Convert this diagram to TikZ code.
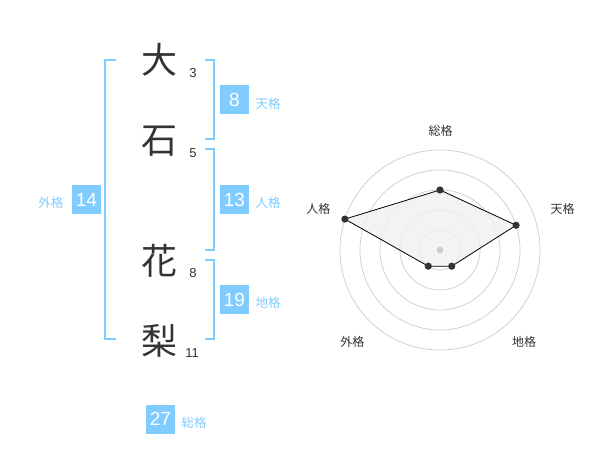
\documentclass[tikz,border=0pt]{standalone}
\usepackage{fontspec}
\setmainfont{Liberation Sans}
\newfontfamily\jpfont{Noto Sans CJK JP}
\definecolor{skyb}{RGB}{128,204,255}
\definecolor{ink}{RGB}{51,51,51}
\definecolor{ring}{RGB}{204,204,204}
\tikzset{
  kanji/.style={font=\jpfont\fontsize{36}{36}\selectfont, text=ink},
  strokes/.style={font=\fontsize{13}{13}\selectfont, text=ink},
  numbox/.style={fill=skyb, text=white, minimum width=29pt, minimum height=29pt, inner sep=0pt, font=\fontsize{19}{19}\selectfont},
  kaku/.style={font=\jpfont\fontsize{12.5}{12.5}\selectfont, text=skyb},
  bracket/.style={draw=skyb, line width=2pt},
  axislabel/.style={font=\jpfont\fontsize{12}{12}\selectfont, text=ink},
}
\begin{document}
\begin{tikzpicture}[x=1pt,y=-1pt]
  \useasboundingbox (0,0) rectangle (600,470);
  % name
  \node[kanji] (c1) at (159,60) {大};
  \node[kanji] (c2) at (159,141) {石};
  \node[kanji] (c3) at (159,261) {花};
  \node[kanji] (c4) at (159,341) {梨};
  \node[strokes] (s1) at (193,73) {3};
  \node[strokes] (s2) at (193,153) {5};
  \node[strokes] (s3) at (193,273) {8};
  \node[strokes] (s4) at (192,353) {11};
  % brackets
  \draw[bracket] (116,60) -- (105,60) -- (105,339) -- (116,339);
  \draw[bracket] (205,60) -- (214,60) -- (214,139) -- (205,139);
  \draw[bracket] (205,149) -- (214,149) -- (214,250) -- (205,250);
  \draw[bracket] (205,260) -- (214,260) -- (214,339) -- (205,339);
  % scores
  \node[numbox] (ten) at (234.5,100) {8};
  \node[kaku,anchor=west] (tenl) at (252,104) {天格};
  \node[numbox] (jin) at (234.5,200) {13};
  \node[kaku,anchor=west] (jinl) at (252,203) {人格};
  \node[numbox] (chi) at (234.5,300) {19};
  \node[kaku,anchor=west] (chil) at (252,303) {地格};
  \node[numbox] (gai) at (86.5,200) {14};
  \node[kaku,anchor=east] (gail) at (67,203) {外格};
  \node[numbox] (sou) at (160.5,419) {27};
  \node[kaku,anchor=west] (soul) at (178,423) {総格};
  % radar
  \begin{scope}[shift={(440,250)},y=1pt]
    \foreach \r in {20,40,...,100}
      \draw[ring,line width=0.7pt] (0,0) circle[radius=\r];
    \coordinate (p1) at (90:60);
    \coordinate (p2) at (18:80);
    \coordinate (p3) at (-54:20);
    \coordinate (p4) at (-126:20);
    \coordinate (p5) at (162:100);
    \filldraw[fill=black!6,fill opacity=0.8,draw=black,line width=0.8pt] (p1) -- (p2) -- (p3) -- (p4) -- (p5) -- cycle;
    \fill[ring] (0,0) circle[radius=3.5];
    \foreach \p in {p1,p2,p3,p4,p5}
      \fill[ink] (\p) circle[radius=3.6];
    \node[axislabel] (a1) at (0.7,119.3) {総格};
    \node[axislabel] (a2) at (122.7,41) {天格};
    \node[axislabel] (a3) at (84,-91.7) {地格};
    \node[axislabel] (a4) at (-87.7,-91.7) {外格};
    \node[axislabel] (a5) at (-121.7,41) {人格};
  \end{scope}
\end{tikzpicture}
\end{document}
